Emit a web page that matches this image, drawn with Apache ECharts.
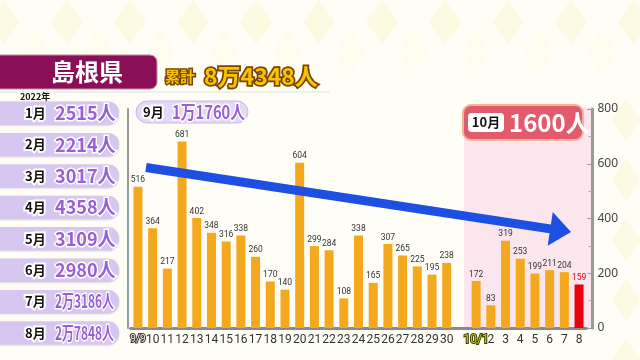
<!DOCTYPE html>
<html><head><meta charset="utf-8">
<script src="https://cdn.jsdelivr.net/npm/echarts@6/dist/echarts.min.js"></script>
<style>html,body{margin:0;padding:0;background:#fffef6}#c{width:640px;height:360px}</style>
</head><body><div id="c"></div>
<script>
// ---- data ----
const septDays = ['9/9','10','11','12','13','14','15','16','17','18','19','20','21','22','23','24','25','26','27','28','29','30'];
const septValues = [516,364,217,681,402,348,316,338,260,170,140,604,299,284,108,338,165,307,265,225,195,238];
const octDays = ['10/1','2','3','4','5','6','7','8'];
const octValues = [172,83,319,253,199,211,204,159];
const yTicks = [0,200,400,600,800];
const monthLabels = ['1月','2月','3月','4月','5月','6月','7月','8月'];
const monthTotals = ['2515人','2214人','3017人','4358人','3109人','2980人','2万3186人','2万7848人'];
const prefName = '島根県';
const cumLabel = '累計';
const cumTotal = '8万4348人';
const septLabel = '9月';
const septTotal = '1万1760人';
const octLabel = '10月';
const octTotal = '1600人';
const yearLabel = '2022年';

// ---- build ----
const categories = septDays.concat([''], octDays);
const values = septValues.concat([null], octValues);
const lastIdx = values.length - 1;
const barData = values.map((v, i) => {
  if (v === null) return '-';
  if (i === lastIdx) return {value: v, itemStyle: {color: '#e8000c'}, label: {color: '#e0000a'}};
  return v;
});

const JP = '"Noto Sans CJK JP"';
const NARROW = 'Roboto, "Liberation Sans", sans-serif';
function otext(x, y, text, font, fill, stroke, lw, sx, z) {
  const base = {x: x, y: y, z: z || 50, scaleX: sx || 1};
  const st = {text: text, font: font, align: 'left', verticalAlign: 'middle', textAlign: 'left', textVerticalAlign: 'middle'};
  return [
    Object.assign({type: 'text'}, base, {style: Object.assign({}, st, {fill: 'rgba(0,0,0,0)', stroke: stroke, lineWidth: lw, lineJoin: 'round'})}),
    Object.assign({type: 'text'}, base, {z: (z || 50) + 1, style: Object.assign({}, st, {fill: fill})})
  ];
}

const g = [];
// faint diamond background pattern
for (let k = 0; k < 11; k++) {
  const cx = 4 + k * 63;
  g.push({type: 'polygon', z: -5, shape: {points: [[cx, 0], [cx + 16, 22], [cx, 44], [cx - 16, 22]]}, style: {fill: '#fdfae2'}});
  const cx2 = cx + 31;
  g.push({type: 'polygon', z: -5, shape: {points: [[cx2, 30], [cx2 + 14, 52], [cx2, 74], [cx2 - 14, 52]]}, style: {fill: '#fefcec'}});
}
for (let k = 0; k < 5; k++) {
  const cy = 120 + k * 60;
  g.push({type: 'polygon', z: -5, shape: {points: [[626, cy - 22], [640, cy], [626, cy + 22], [612, cy]]}, style: {fill: '#fdfae4'}});
}
// title
g.push({type: 'rect', z: 40, shape: {x: -10, y: 55, width: 167, height: 34, r: 7}, style: {fill: '#8a0f57', stroke: '#c98aae', lineWidth: 1}});
g.push({type: 'text', z: 41, x: 87, y: 72, style: {text: prefName, font: 'bold 24px ' + JP, fill: '#ffffff', align: 'center', verticalAlign: 'middle', textAlign: 'center', textVerticalAlign: 'middle'}});
g.push(...otext(165, 76, cumLabel, 'bold 15px ' + JP, '#f6c400', '#7a4300', 3));
g.push(...otext(204, 76, cumTotal, 'bold 23px ' + JP, '#f6c400', '#7a4300', 3.5));
g.push({type: 'line', z: 1, shape: {x1: 0, y1: 92, x2: 330, y2: 92}, style: {stroke: '#e2e2e2', lineWidth: 1}});
// month list
g.push({type: 'text', z: 60, x: 20, y: 97, style: {text: yearLabel, font: 'bold 9px ' + JP, fill: '#111', align: 'left', verticalAlign: 'middle', textAlign: 'left', textVerticalAlign: 'middle'}});
monthLabels.forEach((m, i) => {
  const cy = 113 + i * 31.4;
  g.push({type: 'rect', z: 30, shape: {x: -12, y: cy - 11.5, width: 131, height: 23, r: 11}, style: {fill: '#d7c7f0', shadowBlur: 2, shadowColor: 'rgba(120,90,170,0.35)', shadowOffsetY: 1}});
  g.push(...otext(25, cy, m, 'bold 13px ' + JP, '#111', '#ffffff', 4));
  const long = monthTotals[i].length > 5;
  g.push(...otext(55, cy, monthTotals[i], 'bold ' + (long ? 18 : 19) + 'px ' + JP, '#9a5ed6', '#ffffff', 3, long ? 0.66 : 0.95));
});
// Sept pill
g.push({type: 'rect', z: 30, shape: {x: 136, y: 101, width: 112, height: 22, r: 11}, style: {fill: '#e4d9f6', stroke: '#cbb8ea', lineWidth: 1}});
g.push(...otext(143, 112, septLabel, 'bold 13px ' + JP, '#111', '#ffffff', 4));
g.push(...otext(172, 112, septTotal, 'bold 18px ' + JP, '#9a5ed6', '#ffffff', 3, 0.82));
// October shaded area
g.push({type: 'rect', z: 0, shape: {x: 464, y: 107, width: 128, height: 221}, style: {fill: '#fce6ee'}});
g.push({type: 'rect', z: 40, shape: {x: 463, y: 105, width: 120, height: 35, r: 8}, style: {fill: '#e25b6c', stroke: '#f4b39a', lineWidth: 2}});
g.push({type: 'rect', z: 41, shape: {x: 468, y: 113, width: 36, height: 19, r: 4}, style: {fill: '#ffffff'}});
g.push({type: 'text', z: 42, x: 486, y: 122.5, style: {text: octLabel, font: 'bold 13px ' + JP, fill: '#111', align: 'center', verticalAlign: 'middle', textAlign: 'center', textVerticalAlign: 'middle'}});
g.push({type: 'text', z: 42, x: 509, y: 123, style: {text: octTotal, font: 'bold 24px ' + JP, fill: '#ffffff', align: 'left', verticalAlign: 'middle', textAlign: 'left', textVerticalAlign: 'middle'}});
// trend arrow
(function () {
  const S = [146, 167.5], T = [571, 232];
  const dx = T[0] - S[0], dy = T[1] - S[1], L = Math.hypot(dx, dy);
  const d = [dx / L, dy / L], n = [-d[1], d[0]];
  const B = [T[0] - 21 * d[0], T[1] - 21 * d[1]];
  const P = (p, a, b) => [p[0] + a * n[0] + b * d[0], p[1] + a * n[1] + b * d[1]];
  g.push({type: 'polygon', z: 45, shape: {points: [P(S, -4.5, 0), P(B, -4.5, 0), P(B, -17, 0), T, P(B, 17, 0), P(B, 4.5, 0), P(S, 4.5, 0)]}, style: {fill: '#1c4fe2'}});
})();

const chart = echarts.init(document.getElementById('c'));
chart.setOption({
  backgroundColor: '#fffef6',
  animation: false,
  grid: {left: 130.6, right: 53.6, top: 109, bottom: 32},
  xAxis: {
    type: 'category', data: categories,
    axisLine: {lineStyle: {color: '#8a8a8a', width: 3}},
    axisTick: {show: false},
    axisLabel: {
      interval: 0, margin: 6, fontSize: 12, color: '#333', fontFamily: NARROW,
      formatter: v => v === septDays[0] ? '{a|' + v + '}' : v === octDays[0] ? '{b|' + v + '}' : v,
      rich: {
        a: {fontSize: 10, color: '#f4f0e0', textBorderColor: '#333', textBorderWidth: 2, fontFamily: NARROW},
        b: {fontSize: 12, color: '#c8d300', textBorderColor: '#3b3b00', textBorderWidth: 2, fontFamily: NARROW}
      }
    }
  },
  yAxis: [{
    type: 'value', position: 'right', offset: 6, min: yTicks[0], max: yTicks[yTicks.length - 1], interval: yTicks[1] - yTicks[0],
    axisLine: {show: true, lineStyle: {color: '#999', width: 3}},
    axisTick: {show: true, inside: true, length: 5, lineStyle: {color: '#999'}},
    minorTick: {show: true, splitNumber: 2, length: 4, lineStyle: {color: '#aaa'}},
    splitLine: {show: false},
    axisLabel: {margin: 5, fontSize: 12, color: '#444', fontFamily: '"Noto Sans", sans-serif'}
  }, {
    type: 'value', position: 'left', offset: 2.5, min: 0, max: 800,
    axisLine: {show: true, lineStyle: {color: '#999', width: 2}},
    axisTick: {show: false}, axisLabel: {show: false}, splitLine: {show: false}
  }],
  series: [{
    type: 'bar', data: barData, barWidth: 9, z: 2,
    itemStyle: {color: '#f4a81d'},
    label: {show: true, position: 'top', distance: 2, fontSize: 8.5, color: '#333', fontFamily: NARROW}
  }],
  graphic: {elements: g}
});
</script></body></html>
